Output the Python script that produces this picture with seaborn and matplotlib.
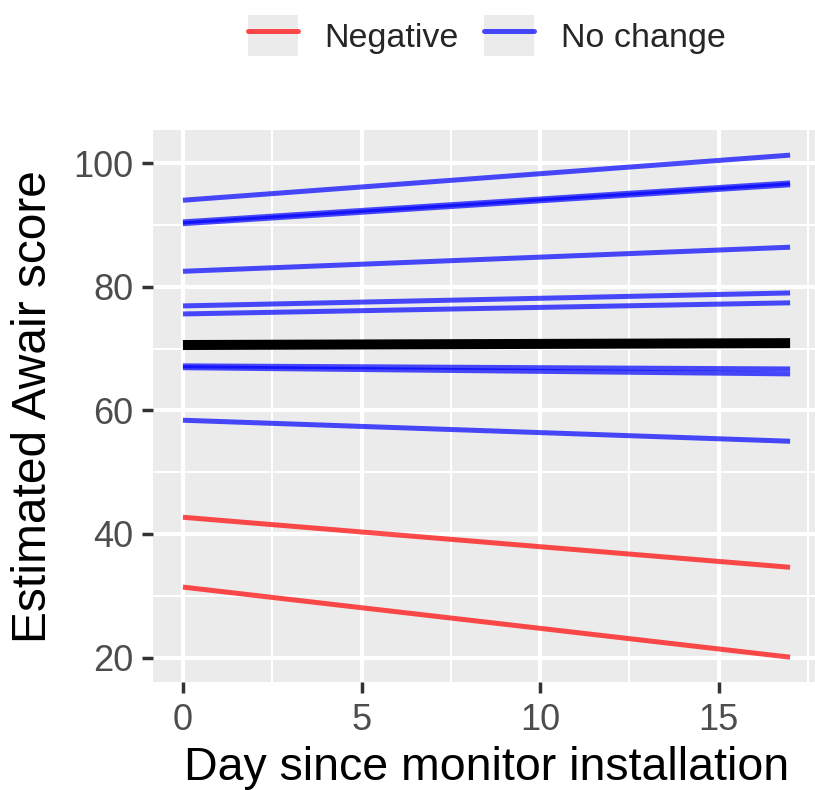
import seaborn as sns
import matplotlib.pyplot as plt
import pandas as pd
import numpy as np
from matplotlib.patches import Rectangle
from matplotlib.lines import Line2D
from matplotlib.legend_handler import HandlerTuple
from matplotlib.ticker import MultipleLocator

# one straight line per monitor, read at day 0 and day 17
days = [0, 17]
groups = ["No change"] * 9 + ["Negative"] * 2
score_day0 = [94.0, 90.2, 90.5, 82.5, 76.9, 75.6, 67.2, 66.9, 58.4, 42.7, 31.4]
score_day17 = [101.3, 96.5, 96.8, 86.4, 79.0, 77.4, 66.7, 65.9, 55.0, 34.6, 20.05]

palette = {"Negative": "#FF0000", "No change": "#0000FF"}
hue_order = ["Negative", "No change"]

rows = []
for i, g in enumerate(groups):
    rows.append({"unit": i, "group": g, "day": days[0], "score": score_day0[i]})
    rows.append({"unit": i, "group": g, "day": days[1], "score": score_day17[i]})
df = pd.DataFrame(rows)

sns.set_theme(style="darkgrid", rc={"axes.facecolor": "#EBEBEB"})
plt.rcParams["font.family"] = ["Liberation Sans", "DejaVu Sans"]

fig = plt.figure(figsize=(8.15, 7.9), dpi=100)
ax = fig.add_axes([0.1872, 0.1363, 0.8195, 0.6991])

sns.lineplot(data=df, x="day", y="score", hue="group", hue_order=hue_order,
             units="unit", estimator=None, palette=palette, alpha=0.7,
             linewidth=3.6, solid_capstyle="butt", legend=False, ax=ax)
# overall mean line
sns.lineplot(data=df, x="day", y="score", estimator="mean", errorbar=None,
             color="black", linewidth=7.2, solid_capstyle="butt", ax=ax)

# ggplot-like limits: 5% expansion of data range
xlo, xhi = min(days), max(days)
xpad = 0.05 * (xhi - xlo)
ax.set_xlim(xlo - xpad, xhi + xpad)
ylo, yhi = df["score"].min(), df["score"].max()
ypad = 0.05 * (yhi - ylo)
ax.set_ylim(ylo - ypad, yhi + ypad)

ax.xaxis.set_major_locator(MultipleLocator(5))
ax.xaxis.set_minor_locator(MultipleLocator(2.5))
ax.yaxis.set_major_locator(MultipleLocator(20))
ax.yaxis.set_minor_locator(MultipleLocator(10))
ax.grid(which="major", color="white", linewidth=3)
ax.grid(which="minor", color="white", linewidth=1.5)
ax.set_axisbelow(True)
for s in ax.spines.values():
    s.set_visible(False)

ax.tick_params(which="major", length=8, width=2.5, color="#333333",
               labelcolor="#4D4D4D", labelsize=26, pad=6)
ax.tick_params(which="minor", length=0)
ax.tick_params(axis="x", which="major", bottom=True, pad=7)
ax.tick_params(axis="y", which="major", left=True)

ax.set_xlabel("Day since monitor installation", fontsize=33.5, labelpad=6, color="black")
ax.set_ylabel("Estimated Awair score", fontsize=34.5, labelpad=12, color="black")

handles = []
for g in hue_order:
    box = Rectangle((0, 0), 1, 1, facecolor="#EBEBEB", edgecolor="none")
    ln = Line2D([], [], color=palette[g], alpha=0.7, linewidth=3.6)
    handles.append((box, ln))
fig.legend(handles, hue_order, handler_map={tuple: HandlerTuple(ndivide=1)},
           loc="center", bbox_to_anchor=(0.597, 0.955), ncol=2, frameon=False,
           fontsize=24.5, handlelength=1.47, handleheight=1.47,
           handletextpad=0.78, columnspacing=0.75, borderpad=0)

fig.savefig("out.png", dpi=100)
